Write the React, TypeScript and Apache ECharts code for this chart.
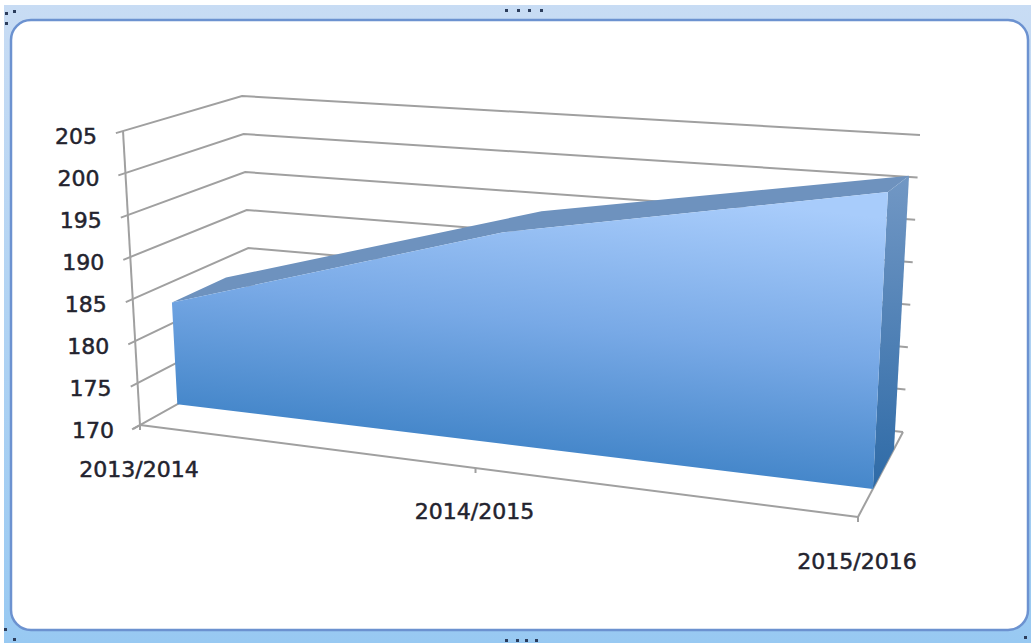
import React, { useEffect, useRef } from "react";
import * as echarts from "echarts";

const categories = ["2013/2014", "2014/2015", "2015/2016"];
const seriesValues = [182.5, 194, 201];
const valueTicks = [170, 175, 180, 185, 190, 195, 200, 205];

const WIDTH = 1031;
const HEIGHT = 643;
const FONT = '22px "DejaVu Sans", sans-serif';
const TEXT_COLOR = "#23232e";
const GRID_COLOR = "#a0a0a0";

// Screen positions of the eight corners of the 3D plot box, [x, y],
// indexed as [category end][value end][depth end].
const BOX = [
  [
    [[140, 425], [253, 362]],
    [[123, 131], [242, 96]],
  ],
  [
    [[858, 517], [903, 432]],
    [[875, 163], [920, 135]],
  ],
];
const AREA_DEPTH_FRONT = 0.33;
const AREA_DEPTH_BACK = 0.8;
// Foreshortening along the category axis: the left end lies further from the viewer.
const CATEGORY_PERSPECTIVE = 1.14;

// Trilinear mapping from box coordinates (each 0..1) to the screen.
function boxToScreen(c: number, v: number, d: number): number[] {
  const mix = (a: number, b: number, t: number) => a + (b - a) * t;
  const cp = c / (c + CATEGORY_PERSPECTIVE * (1 - c));
  return [0, 1].map((k) =>
    mix(
      mix(mix(BOX[0][0][0][k], BOX[0][0][1][k], d), mix(BOX[0][1][0][k], BOX[0][1][1][k], d), v),
      mix(mix(BOX[1][0][0][k], BOX[1][0][1][k], d), mix(BOX[1][1][0][k], BOX[1][1][1][k], d), v),
      cp
    )
  );
}

// Runs a data pair through the hidden cartesian axes, then into the box.
function project(api: any, catIndex: number, value: number, d: number): number[] {
  const [px, py] = api.coord([catIndex, value]);
  return boxToScreen(px / WIDTH, 1 - py / HEIGHT, d);
}

const gridStyle = { stroke: GRID_COLOR, lineWidth: 2, fill: "none" };
const labelStyle = {
  font: FONT,
  fill: TEXT_COLOR,
  stroke: TEXT_COLOR,
  lineWidth: 0.5,
  verticalAlign: "middle",
};
const last = categories.length - 1;

function renderValueTick(_: any, api: any) {
  const v = api.value(0);
  const tickEnd = project(api, 0, v, -0.06);
  const front = project(api, 0, v, 0);
  const corner = project(api, 0, v, 1);
  const back = project(api, last, v, 1);
  return {
    type: "group",
    children: [
      { type: "polyline", shape: { points: [tickEnd, corner, back] }, style: gridStyle },
      {
        type: "text",
        style: {
          ...labelStyle,
          text: String(v),
          x: front[0] - 26,
          y: front[1] + 5,
          align: "right",
        },
      },
    ],
  };
}

function renderCategoryTick(_: any, api: any) {
  const i = api.value(0);
  const base = project(api, i, valueTicks[0], 0);
  const stub = project(api, i, valueTicks[0], -0.07);
  const children: any[] = [
    { type: "polyline", shape: { points: [base, [base[0], base[1] + 5]] }, style: gridStyle },
    {
      type: "text",
      style: {
        ...labelStyle,
        text: categories[i],
        x: base[0] - 1,
        y: base[1] + 44,
        align: "center",
      },
    },
  ];
  if (i === 0) {
    children.push({ type: "polyline", shape: { points: [stub, base] }, style: gridStyle });
  }
  return { type: "group", children };
}

function renderFrame(params: any, api: any) {
  if (params.dataIndex !== 0) return null;
  const min = valueTicks[0];
  const max = valueTicks[valueTicks.length - 1];
  const line = (a: number[], b: number[]) => ({
    type: "polyline",
    shape: { points: [a, b] },
    style: gridStyle,
  });
  return {
    type: "group",
    children: [
      line(project(api, 0, min, 0), project(api, 0, max, 0)),
      line(project(api, 0, min, 0), project(api, last, min, 0)),
      line(project(api, last, min, 0), project(api, last, min, 1)),
    ],
  };
}

function renderArea(params: any, api: any) {
  if (params.dataIndex !== 0) return null;
  const base = valueTicks[0];
  const idx = categories.map((_, i) => i);
  const frontTop = idx.map((i) => project(api, i, seriesValues[i], AREA_DEPTH_FRONT));
  const backTop = idx.map((i) => project(api, i, seriesValues[i], AREA_DEPTH_BACK));
  const frontBottom = idx.map((i) => project(api, i, base, AREA_DEPTH_FRONT));
  const backBottom = project(api, last, base, AREA_DEPTH_BACK);

  const frontFill = new echarts.graphic.LinearGradient(
    520, 175, 486, 462,
    [
      { offset: 0, color: "#A8CCFB" },
      { offset: 0.5, color: "#78A9E6" },
      { offset: 1, color: "#3E82C6" },
    ],
    true
  );
  const sideFill = new echarts.graphic.LinearGradient(
    0, 180, 0, 485,
    [
      { offset: 0, color: "#7197C4" },
      { offset: 1, color: "#2F6BA7" },
    ],
    true
  );

  return {
    type: "group",
    children: [
      {
        type: "polygon",
        shape: { points: [...frontTop, ...backTop.slice().reverse()] },
        style: { fill: "#6E92BE" },
      },
      {
        type: "polygon",
        shape: {
          points: [frontTop[last], backTop[last], backBottom, frontBottom[last]],
        },
        style: { fill: sideFill },
      },
      {
        type: "polygon",
        shape: { points: [...frontTop, ...frontBottom.slice().reverse()] },
        style: { fill: frontFill },
      },
    ],
  };
}

// Selection handles sitting on the frame of the embedded chart object.
const handleDot = (x: number, y: number) => ({
  type: "rect",
  shape: { x, y, width: 3, height: 3 },
  style: { fill: "#2c3d5c" },
});

const topHandleXs = [505, 517, 528, 540];
const bottomHandleXs = [505, 516, 525, 535];

export default function App() {
  const ref = useRef<HTMLDivElement>(null);

  useEffect(() => {
    const chart = echarts.init(ref.current!, null, { renderer: "svg" });
    chart.setOption({
      animation: false,
      backgroundColor: "#ffffff",
      grid: { left: 0, right: 0, top: 0, bottom: 0 },
      xAxis: { type: "category", data: categories, boundaryGap: false, show: false },
      yAxis: {
        type: "value",
        min: valueTicks[0],
        max: valueTicks[valueTicks.length - 1],
        show: false,
      },
      graphic: [
        {
          type: "rect",
          z: 0,
          shape: { x: 4, y: 5, width: WIDTH - 4, height: HEIGHT - 5 },
          style: {
            fill: new echarts.graphic.LinearGradient(0, 0, 0, 1, [
              { offset: 0, color: "#C8DCF4" },
              { offset: 1, color: "#98C9F2" },
            ]),
          },
        },
        {
          type: "rect",
          z: 0,
          shape: { x: 11, y: 20, width: 1017, height: 610, r: 20 },
          style: { fill: "#ffffff", stroke: "#6C92D0", lineWidth: 2.5 },
        },
        ...topHandleXs.map((x) => handleDot(x, 9)),
        ...bottomHandleXs.map((x) => handleDot(x, 639)),
        handleDot(5, 12),
        handleDot(13, 10),
        handleDot(5, 22),
        handleDot(4, 628),
        handleDot(13, 638),
        handleDot(1024, 636),
      ],
      series: [
        {
          type: "custom",
          clip: false,
          silent: true,
          coordinateSystem: "cartesian2d",
          data: valueTicks.map((v) => [v]),
          encode: { x: -1, y: 0 },
          renderItem: renderValueTick,
        },
        {
          type: "custom",
          clip: false,
          silent: true,
          coordinateSystem: "cartesian2d",
          data: categories.map((_, i) => [i]),
          encode: { x: 0, y: -1 },
          renderItem: renderCategoryTick,
        },
        {
          type: "custom",
          clip: false,
          silent: true,
          coordinateSystem: "cartesian2d",
          data: categories.map((_, i) => [i, seriesValues[i]]),
          encode: { x: 0, y: 1 },
          renderItem: renderFrame,
        },
        {
          type: "custom",
          clip: false,
          silent: true,
          coordinateSystem: "cartesian2d",
          data: categories.map((_, i) => [i, seriesValues[i]]),
          encode: { x: 0, y: 1 },
          renderItem: renderArea,
        },
      ],
    });
    return () => chart.dispose();
  }, []);

  return (
    <div
      ref={ref}
      style={{ position: "absolute", left: 0, top: 0, width: WIDTH, height: HEIGHT }}
    />
  );
}
